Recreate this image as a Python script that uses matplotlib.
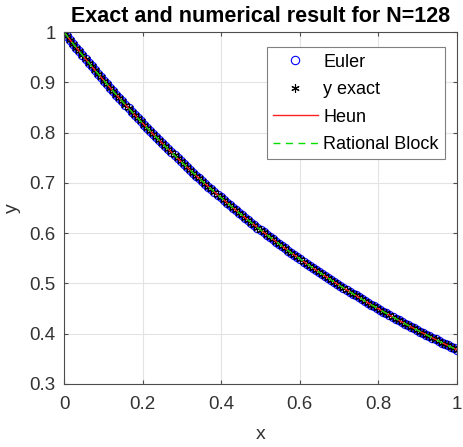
import numpy as np
import matplotlib
matplotlib.use('Agg')
import matplotlib.pyplot as plt

plt.rcParams['font.family'] = ['Liberation Sans', 'DejaVu Sans']

# 129 points on [0, 1]. The y values are exp(-x) at x = k/128, worked out by hand
# (the curve in the picture follows it), not read point by point off the picture.
# Euler, exact, Heun and Rational Block overlap at this scale, so all four use this list.
N = 128
x = np.linspace(0, 1, N + 1)
y_vals = [1.0000, 0.9922, 0.9845, 0.9768, 0.9692, 0.9617, 0.9542, 0.9468,
          0.9394, 0.9321, 0.9248, 0.9177, 0.9105, 0.9034, 0.8964, 0.8894,
          0.8825, 0.8756, 0.8688, 0.8621, 0.8553, 0.8487, 0.8421, 0.8355,
          0.8290, 0.8226, 0.8162, 0.8098, 0.8035, 0.7973, 0.7911, 0.7849,
          0.7788, 0.7727, 0.7667, 0.7608, 0.7548, 0.7490, 0.7431, 0.7374,
          0.7316, 0.7259, 0.7203, 0.7147, 0.7091, 0.7036, 0.6981, 0.6927,
          0.6873, 0.6819, 0.6766, 0.6714, 0.6661, 0.6610, 0.6558, 0.6507,
          0.6456, 0.6406, 0.6356, 0.6307, 0.6258, 0.6209, 0.6161, 0.6113,
          0.6065, 0.6018, 0.5971, 0.5925, 0.5879, 0.5833, 0.5788, 0.5743,
          0.5698, 0.5653, 0.5609, 0.5566, 0.5523, 0.5480, 0.5437, 0.5395,
          0.5353, 0.5311, 0.5270, 0.5229, 0.5188, 0.5148, 0.5108, 0.5068,
          0.5028, 0.4989, 0.4950, 0.4912, 0.4874, 0.4836, 0.4798, 0.4761,
          0.4724, 0.4687, 0.4650, 0.4614, 0.4578, 0.4543, 0.4507, 0.4472,
          0.4437, 0.4403, 0.4369, 0.4335, 0.4301, 0.4267, 0.4234, 0.4201,
          0.4169, 0.4136, 0.4104, 0.4072, 0.4040, 0.4009, 0.3978, 0.3947,
          0.3916, 0.3886, 0.3855, 0.3825, 0.3796, 0.3766, 0.3737, 0.3708,
          0.3679]
y_euler = np.array(y_vals)
y_exact = np.array(y_vals)
y_heun = np.array(y_vals)
y_rb = np.array(y_vals)

labels = ['Euler', 'y exact', 'Heun', 'Rational Block']
xticks = [0, 0.2, 0.4, 0.6, 0.8, 1]
yticks = [0.3, 0.4, 0.5, 0.6, 0.7, 0.8, 0.9, 1]

axcol = '#4d4d4d'
txtcol = '#333333'

fig = plt.figure(figsize=(4.64, 4.47), dpi=100)
ax = fig.add_axes([0.138, 0.141, 0.847, 0.787])

asterisk = (6, 2, 0)
ax.plot(x, y_euler, 'o', color='blue', mfc='none', ms=6, mew=0.8, label=labels[0])
ax.plot(x, y_exact, ls='none', marker=asterisk, color='black', ms=6, mew=0.8, label=labels[1])
ax.plot(x, y_heun, '-', color='#ff2020', lw=1.0, label=labels[2])
ax.plot(x, y_rb, '--', color='#00e000', lw=1.0, dashes=(5, 4), label=labels[3])

ax.set_xlim(0, 1)
ax.set_ylim(0.3, 1)
ax.set_xticks(xticks)
ax.set_xticklabels(['0', '0.2', '0.4', '0.6', '0.8', '1'])
ax.set_yticks(yticks)
ax.set_yticklabels(['0.3', '0.4', '0.5', '0.6', '0.7', '0.8', '0.9', '1'])
ax.grid(True, color='#e3e3e3', lw=0.8)
ax.set_axisbelow(True)
ax.tick_params(direction='in', length=3, width=0.8, colors=axcol, labelcolor=txtcol,
               labelsize=13.5, top=True, right=True)
ax.tick_params(axis='x', pad=9)
ax.tick_params(axis='y', pad=6)
for s in ax.spines.values():
    s.set_color(axcol)
    s.set_linewidth(0.8)

ax.set_xlabel('x', fontsize=14, color=txtcol, labelpad=9)
ax.set_ylabel('y', fontsize=14, color=txtcol, labelpad=6)
ax.set_title('Exact and numerical result for N=128', fontsize=15.5, fontweight='bold', pad=7)

leg = ax.legend(loc='upper right', fontsize=13, bbox_to_anchor=(0.97, 0.957),
                fancybox=False, framealpha=1, edgecolor='#808080',
                handlelength=2.5, borderpad=0.35, labelspacing=0.58, handletextpad=0.3,
                borderaxespad=0)
leg.get_frame().set_linewidth(0.8)

fig.savefig('out.png', dpi=100)
